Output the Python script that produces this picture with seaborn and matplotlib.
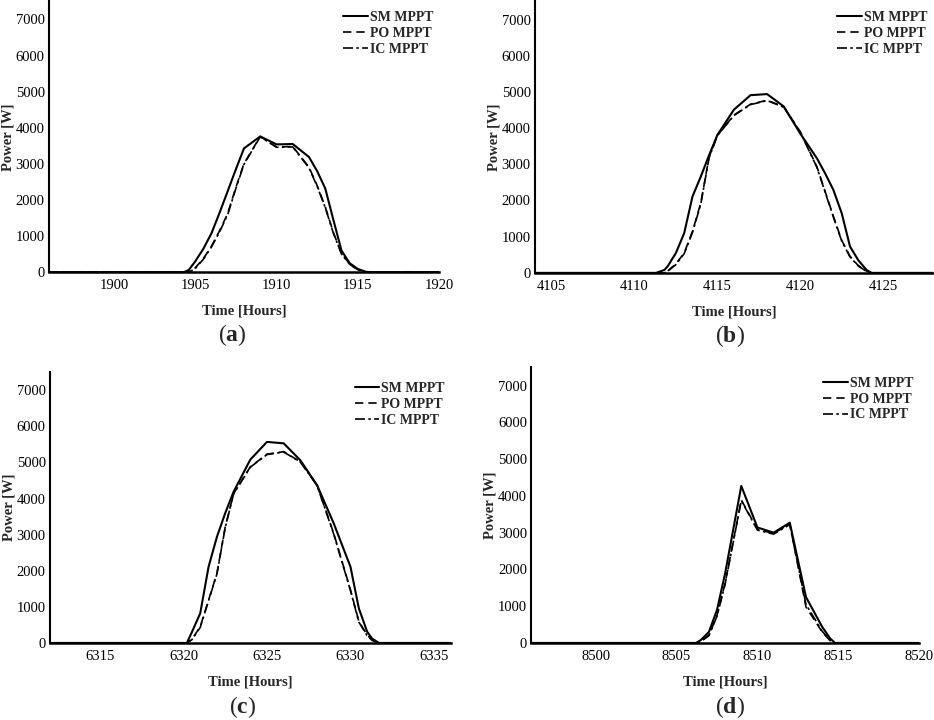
"""Puissance PV horaire pour trois strategies MPPT sur quatre journees."""

import matplotlib
matplotlib.use("Agg")
import matplotlib.pyplot as plt
import seaborn as sns


SERIES = ["SM MPPT", "PO MPPT", "IC MPPT"]

a_time = [1896, 1904.3, 1904.6, 1905, 1905.5, 1906, 1906.5, 1907, 1907.5, 1908, 1909, 1910,
          1911, 1912, 1912.5, 1913, 1913.5, 1914, 1914.5, 1915, 1915.5, 1915.8, 1920]
a_sm = [0, 0, 60, 300, 650, 1080, 1650, 2250, 2850, 3430, 3760, 3540,
        3550, 3190, 2800, 2320, 1450, 600, 250, 90, 10, 0, 0]
a_po = [0, 0, 0, 120, 380, 720, 1150, 1630, 2350, 3010, 3760, 3470,
        3480, 2910, 2400, 1810, 1100, 520, 230, 70, 5, 0, 0]
a_ic = [0, 0, 0, 100, 360, 700, 1120, 1600, 2320, 2990, 3750, 3460,
        3470, 2890, 2380, 1790, 1080, 500, 220, 60, 0, 0, 0]

b_time = [4104, 4111.3, 4111.8, 4112, 4112.5, 4113, 4113.5, 4114, 4114.5, 4115, 4116, 4117,
          4118, 4119, 4120, 4121, 4121.5, 4122, 4122.5, 4123, 4123.5, 4124, 4124.3, 4128]
b_sm = [0, 0, 80, 180, 550, 1100, 2110, 2660, 3250, 3810, 4510, 4910,
        4940, 4600, 3850, 3170, 2750, 2290, 1650, 730, 350, 80, 0, 0]
b_po = [0, 0, 0, 50, 250, 550, 1150, 1930, 3200, 3800, 4360, 4660,
        4770, 4590, 3900, 2940, 2250, 1560, 900, 460, 200, 50, 0, 0]
b_ic = [0, 0, 0, 40, 230, 530, 1120, 1900, 3180, 3790, 4350, 4650,
        4760, 4580, 3890, 2920, 2230, 1540, 880, 440, 190, 40, 0, 0]

c_time = [6312, 6320.2, 6320.5, 6321, 6321.5, 6322, 6322.5, 6323, 6324, 6325, 6326,
          6327, 6328, 6329, 6330, 6330.5, 6331, 6331.3, 6331.7, 6331.9, 6336]
c_sm = [0, 0, 300, 820, 2110, 2940, 3600, 4190, 5080, 5570, 5530,
        5060, 4370, 3310, 2110, 960, 310, 120, 0, 0, 0]
c_po = [0, 0, 100, 450, 1190, 1930, 3220, 4140, 4880, 5230, 5300,
        5020, 4370, 3030, 1470, 600, 220, 80, 10, 0, 0]
c_ic = [0, 0, 90, 430, 1170, 1910, 3200, 4130, 4870, 5220, 5290,
        5010, 4360, 3010, 1450, 580, 200, 70, 0, 0, 0]

d_time = [8496, 8506.2, 8506.5, 8507, 8507.5, 8508, 8509, 8510, 8511, 8512, 8513,
          8514, 8514.5, 8514.8, 8520]
d_sm = [0, 0, 80, 300, 900, 1890, 4270, 3140, 3000, 3270, 1250, 440, 120, 0, 0]
d_po = [0, 0, 50, 210, 750, 1620, 3890, 3090, 2980, 3240, 980, 300, 60, 0, 0]
d_ic = [0, 0, 40, 200, 730, 1600, 3870, 3070, 2960, 3220, 1050, 320, 70, 0, 0]

PANELS = [
    ("a", a_time, (a_sm, a_po, a_ic), (1896, 1920), [1900, 1905, 1910, 1915, 1920]),
    ("b", b_time, (b_sm, b_po, b_ic), (4104, 4128), [4105, 4110, 4115, 4120, 4125]),
    ("c", c_time, (c_sm, c_po, c_ic), (6312, 6336), [6315, 6320, 6325, 6330, 6335]),
    ("d", d_time, (d_sm, d_po, d_ic), (8496, 8520), [8500, 8505, 8510, 8515, 8520]),
]

# positions des axes [gauche, bas, largeur, hauteur] en fraction de la figure
AXES_POS = {
    "a": [0.0525, 0.622, 0.4175, 0.376],
    "b": [0.5728, 0.621, 0.426, 0.377],
    "c": [0.0535, 0.107, 0.429, 0.376],
    "d": [0.5686, 0.107, 0.4155, 0.383],
}
LETTER_POS = {"a": (0.249, 0.535), "b": (0.781, 0.533), "c": (0.260, 0.018), "d": (0.781, 0.018)}

STYLES = {
    "SM MPPT": dict(linestyle="-", linewidth=1.5),
    "PO MPPT": dict(linestyle=(0, (5, 3)), linewidth=1.2),
    "IC MPPT": dict(linestyle=(0, (6, 2, 1.5, 2)), linewidth=1.2),
}


def main() -> None:
    sns.set_theme(style="white")
    plt.rcParams["font.family"] = ["Liberation Serif", "DejaVu Serif"]
    plt.rcParams["mathtext.fontset"] = "custom"
    plt.rcParams["mathtext.rm"] = "Liberation Serif"
    plt.rcParams["mathtext.bf"] = "Liberation Serif:bold"

    fig = plt.figure(figsize=(9.34, 7.2), dpi=100)
    for letter, time, values, xlim, xticks in PANELS:
        ax = fig.add_axes(AXES_POS[letter])
        for name, power in zip(SERIES, values):
            sns.lineplot(x=time, y=power, ax=ax, color="black", label=name, **STYLES[name])
        ax.set_xlim(*xlim)
        ax.set_ylim(0, 7500)
        ax.set_xticks(xticks)
        ax.set_yticks(range(0, 7001, 1000))
        ax.set_xlabel("Time [Hours]", fontsize=10.5, fontweight="bold", labelpad=9)
        ax.set_ylabel("Power [W]", fontsize=10.5, fontweight="bold", labelpad=1)
        ax.tick_params(axis="both", direction="in", length=4, width=1.2, labelsize=10.5,
                       colors="black", pad=5)
        ax.tick_params(axis="y", length=3, pad=3)
        for side in ("top", "right"):
            ax.spines[side].set_visible(False)
        ax.spines["left"].set_linewidth(1.5)
        ax.spines["bottom"].set_linewidth(1.8)
        ax.spines["left"].set_color("black")
        ax.spines["bottom"].set_color("black")
        ax.legend(loc="upper right", bbox_to_anchor=(1.01, 1.0), frameon=False,
                  handlelength=1.75, handletextpad=0.15, labelspacing=0.2, borderaxespad=0.3,
                  prop={"family": "Liberation Serif", "weight": "bold", "size": 10})
        x, y = LETTER_POS[letter]
        fig.text(x, y, rf"($\mathbf{{{letter}}}$)", fontsize=17, ha="center", va="center")

    fig.savefig("out.png", dpi=100, facecolor="white")
    plt.close(fig)


if __name__ == "__main__":
    main()
